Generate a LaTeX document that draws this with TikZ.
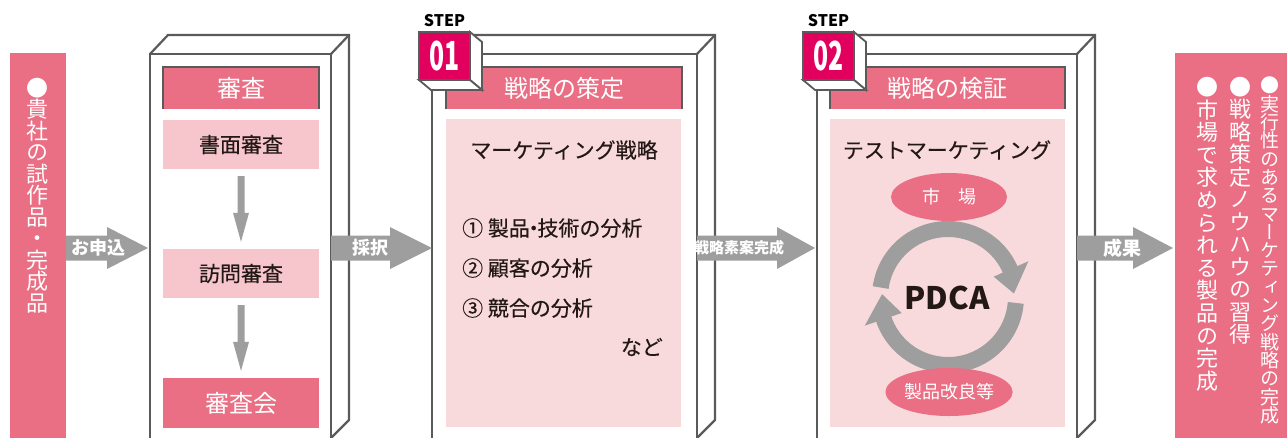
\documentclass[tikz,border=0pt]{standalone}
\usepackage{fontspec}
\setmainfont{Noto Sans CJK JP}
\newfontfamily\vjp[RawFeature=+vert]{Noto Sans CJK JP}
\newfontfamily\medf[FakeBold=0.35]{Noto Sans CJK JP}
\newfontfamily\condf[FakeStretch=0.62]{Noto Sans CJK JP}
\usetikzlibrary{calc,shapes.geometric}
\definecolor{pinkM}{RGB}{234,110,132}
\definecolor{pinkL}{RGB}{246,198,204}
\definecolor{pinkXL}{RGB}{248,218,221}
\definecolor{magB}{RGB}{226,0,94}
\definecolor{arrG}{RGB}{158,158,158}
\definecolor{frameG}{RGB}{90,90,90}
\definecolor{txtD}{RGB}{35,24,21}
\tikzset{
  frame/.style={draw=frameG, line width=2.2pt, line join=miter},
  hdr/.style={fill=pinkM, text=white, inner sep=0pt, minimum height=42pt, font=\fontsize{24}{26}\selectfont},
  hdrline/.style={draw=frameG, line width=2pt},
  subbox/.style={fill=pinkL, text=txtD, inner sep=0pt, minimum width=156pt, minimum height=49pt, font=\medf\fontsize{21}{24}\selectfont},
  cont/.style={fill=pinkXL, inner sep=0pt, minimum width=235pt, minimum height=308pt},
  ctext/.style={text=txtD, inner sep=0pt, font=\medf\fontsize{21}{24}\selectfont},
  albl/.style={text=white, inner sep=0pt, font=\bfseries\fontsize{18}{20}\selectfont},
  bar/.style={fill=pinkM, inner sep=0pt, anchor=north west},
  vt/.style={align=center, inner sep=0pt, text=white, anchor=north},
  ell/.style={ellipse, fill=pinkM, minimum width=116pt, minimum height=48pt, text=white, inner sep=0pt, font=\fontsize{18}{20}\selectfont},
  badgeside/.style={fill=white, draw=frameG, line width=1.8pt, line join=miter},
}
\newcommand\crate[3]{%
  \fill[white] (#2,#3) -- (#2+18,#3-19) -- (#2+18,420) -- (#2,438) -- cycle;
  \draw[frame] (#1,441) -- (#1,#3) -- (#2,#3) -- (#2,441);
  \draw[frame] (#1,#3) -- (#1+18,#3-19) -- (#2+18,#3-19) -- (#2+18,420) -- (#2,438);
  \draw[frame] (#2,#3) -- (#2+18,#3-19);}
\newcommand\blockarrow[4]{%
  \fill[arrG] (#1,#4-12.5) -- (#2,#4-12.5) -- (#2,#4-21) -- (#3,#4) -- (#2,#4+21) -- (#2,#4+12.5) -- (#1,#4+12.5) -- cycle;}
\newcommand\vdarrow[2]{%
  \fill[arrG] ($(#1.south)+(-3.5,7)$) -- ($(#1.south)+(3.5,7)$) -- ($(#2.north)+(3.5,-36)$) -- ($(#2.north)+(8,-36)$) -- ($(#2.north)+(0,-7)$) -- ($(#2.north)+(-8,-36)$) -- ($(#2.north)+(-3.5,-36)$) -- cycle;}
\newcommand\badge[3]{%
  \node[font=\bfseries\fontsize{16}{18}\selectfont, inner sep=0pt, text=black] (#3s) at (#1+25.5,21) {STEP};
  \path[badgeside] (#1+51,32) -- (#1+63,42) -- (#1+63,90) -- (#1+51,80) -- cycle;
  \path[badgeside] (#1,80) -- (#1+51,80) -- (#1+63,90) -- (#1+12,90) -- cycle;
  \node[fill=magB, draw=frameG, line width=1.8pt, minimum width=51pt, minimum height=48pt, inner sep=0pt, text=white, font=\condf\bfseries\fontsize{40}{40}\selectfont] (#3) at (#1+25.5,56) {#2};}
\begin{document}
\lineskiplimit=-100pt\relax
\begin{tikzpicture}[x=1pt,y=-1pt]
\useasboundingbox (0,0) rectangle (1287,437);
% left bar
\node[bar, minimum width=56pt, minimum height=390pt] (lbar) at (10,53) {};
\node[vt, font=\vjp\fontsize{22}{21.5}\selectfont] (ltext) at (38,78) {●\\貴\\社\\の\\試\\作\\品\\・\\完\\成\\品};
% right bar
\node[bar, minimum width=112pt, minimum height=390pt] (rbar) at (1175,53) {};
\node[vt, font=\vjp\fontsize{19}{18.3}\selectfont] (r1) at (1270,77) {●\\実\\行\\性\\の\\あ\\る\\マ\\ー\\ケ\\テ\\ィ\\ン\\グ\\戦\\略\\の\\完\\成};
\node[vt, font=\vjp\fontsize{22}{22.5}\selectfont] (r2) at (1240,77) {●\\戦\\略\\策\\定\\ノ\\ウ\\ハ\\ウ\\の\\習\\得};
\node[vt, font=\vjp\fontsize{22}{22.6}\selectfont] (r3) at (1207,77) {●\\市\\場\\で\\求\\め\\ら\\れ\\る\\製\\品\\の\\完\\成};
% box 1
\crate{150}{331}{54}
\node[hdr, minimum width=156pt] (h1) at (241,88) {審査};
\draw[hdrline] (h1.south west) -- (h1.north west) -- (h1.north east) -- (h1.south east);
\node[subbox] (s1) at (241,144.5) {書面審査};
\node[subbox] (s2) at (241,273.5) {訪問審査};
\node[subbox, fill=pinkM, text=white, minimum height=50pt, font=\fontsize{24}{26}\selectfont] (s3) at (241,403) {審査会};
\vdarrow{s1}{s2}
\vdarrow{s2}{s3}
% box 2
\crate{432}{697}{54}
\node[hdr, minimum width=236pt] (h2) at (564,88) {戦略の策定};
\draw[hdrline] (h2.south west) -- (h2.north west) -- (h2.north east) -- (h2.south east);
\node[cont] (c2) at (563.5,273) {};
\node[ctext] (t21) at (564,150) {マーケティング戦略};
\node[ctext, anchor=west] (t22) at (462,228) {① 製品\kern-0.32em・\kern-0.32em技術の分析};
\node[ctext, anchor=west] (t23) at (462,268) {② 顧客の分析};
\node[ctext, anchor=west] (t24) at (462,308) {③ 競合の分析};
\node[ctext, anchor=east] (t25) at (663,347) {など};
\badge{419}{01}{n1}
% box 3
\crate{817}{1077}{54}
\node[hdr, minimum width=235pt] (h3) at (947.5,88) {戦略の検証};
\draw[hdrline] (h3.south west) -- (h3.north west) -- (h3.north east) -- (h3.south east);
\node[cont] (c3) at (947.5,273) {};
\node[ctext] (t31) at (947,150) {テストマーケティング};
\coordinate (ctr) at (948,297);
\draw[arrG, line width=16pt] ($(ctr)+(-172:68)$) arc[start angle=-172, end angle=-23, radius=68];
\fill[arrG] ($(ctr)+(-24:50)$) -- ($(ctr)+(-24:88)$) -- ($(ctr)+(-3:66)$) -- cycle;
\draw[arrG, line width=16pt] ($(ctr)+(5:68)$) arc[start angle=5, end angle=162, radius=68];
\fill[arrG] ($(ctr)+(161:49)$) -- ($(ctr)+(161:88)$) -- ($(ctr)+(182.5:66)$) -- cycle;
\node[ell] (m1) at (949,197) {市　場};
\node[ell] (m2) at (949,392) {製品改良等};
\node[text=txtD, inner sep=0pt, font=\bfseries\fontsize{31}{34}\selectfont] (pdca) at (947,298) {PDCA};
\badge{803}{02}{n2}
% block arrows
\blockarrow{66}{107}{148}{248}
\node[albl] (a1) at (98,248) {お申込};
\blockarrow{331}{390}{432}{248}
\node[albl] (a2) at (370,248) {採択};
\blockarrow{697}{777}{815}{248}
\node[albl, font=\bfseries\fontsize{15}{17}\selectfont] (a3) at (739,248) {戦略素案完成};
\blockarrow{1077}{1133}{1173}{248}
\node[albl, font=\bfseries\fontsize{19}{21}\selectfont] (a4) at (1122,248) {成果};
\end{tikzpicture}
\end{document}
